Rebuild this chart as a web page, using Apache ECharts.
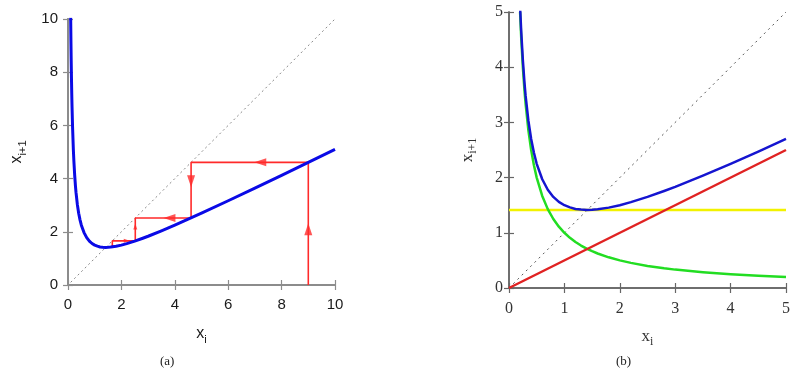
<!DOCTYPE html>
<html>
<head>
<meta charset="utf-8">
<script src="https://cdn.jsdelivr.net/npm/echarts@6/dist/echarts.min.js"></script>
<style>
  html, body { margin: 0; padding: 0; background: #fff; }
  #chart { width: 795px; height: 376px; }
</style>
</head>
<body>
<div id="chart"></div>
<script>
// (a) x_{i+1} against x_i
const curveAX = [0.1, 0.11, 0.12, 0.13, 0.14, 0.15, 0.17, 0.2, 0.22, 0.25, 0.28, 0.3, 0.35, 0.4, 0.45, 0.5, 0.6, 0.7, 0.8, 0.9,
  1.0, 1.1, 1.2, 1.3, 1.41, 1.5, 1.6, 1.8, 2.0, 2.2, 2.5, 2.8, 3.0, 3.5, 4, 5, 6, 7, 8, 9, 10];
const curveAY = [10.05, 9.15, 8.39, 7.76, 7.21, 6.74, 5.97, 5.1, 4.66, 4.13, 3.71, 3.48, 3.03, 2.7, 2.45, 2.25, 1.97, 1.78, 1.65, 1.56,
  1.5, 1.46, 1.43, 1.42, 1.414, 1.417, 1.425, 1.456, 1.5, 1.555, 1.65, 1.757, 1.833, 2.036, 2.25, 2.7, 3.167, 3.643, 4.125, 4.611, 5.1];

// cobweb path starting from x0 = 9
const cobX = [9, 9, 4.61, 4.61, 2.52, 2.52, 1.66, 1.66];
const cobY = [0, 4.61, 4.61, 2.52, 2.52, 1.66, 1.66, 1.43];

// arrow heads on the cobweb
const arrowX = [9, 7.2, 4.61, 3.8, 2.52, 2.2];
const arrowY = [2.1, 4.61, 3.9, 2.52, 2.2, 1.66];
const arrowRot = [0, 90, 180, 90, 0, -90];
const arrowBig = [true, true, true, true, false, false];

// (b) the curve and its two parts
const curveBX = [0.2, 0.22, 0.25, 0.28, 0.3, 0.35, 0.4, 0.45, 0.5, 0.6, 0.7, 0.8, 0.9, 1.0, 1.1, 1.2, 1.3, 1.41, 1.5, 1.6,
  1.8, 2.0, 2.2, 2.5, 2.8, 3.0, 3.5, 4, 4.5, 5];
const curveBY = [5.1, 4.66, 4.13, 3.71, 3.48, 3.03, 2.7, 2.45, 2.25, 1.97, 1.78, 1.65, 1.56, 1.5, 1.46, 1.43, 1.42, 1.414, 1.417, 1.425,
  1.456, 1.5, 1.555, 1.65, 1.757, 1.833, 2.036, 2.25, 2.472, 2.7];
const greenY = [5, 4.545, 4, 3.571, 3.333, 2.857, 2.5, 2.222, 2, 1.667, 1.429, 1.25, 1.111, 1, 0.909, 0.833, 0.769, 0.709, 0.667, 0.625,
  0.556, 0.5, 0.455, 0.4, 0.357, 0.333, 0.286, 0.25, 0.222, 0.2];
const redX = [0, 5];
const redY = [0, 2.5];
const yellowX = [0, 5];
const yellowY = [1.414, 1.414];
const diagB = [0, 5];
const diagA = [0.1, 10];

const zip = (xs, ys) => xs.map((x, i) => [x, ys[i]]);

const chart = echarts.init(document.getElementById('chart'));

const fontA = 'Liberation Sans, Arial, sans-serif';
const fontB = 'Liberation Serif, Times New Roman, serif';

function axisPair(gridIndex, max, interval, opts) {
  const line = { lineStyle: { color: opts.lineColor, width: opts.lineWidth } };
  const tick = { inside: true, length: 5, lineStyle: { color: opts.lineColor, width: 1.2 } };
  const base = { gridIndex, type: 'value', min: 0, max, interval, splitLine: { show: false }, axisLine: line, axisTick: tick };
  const nameRich = {
    v: { fontFamily: opts.font, fontSize: opts.nameSize, color: opts.textColor, lineHeight: opts.nameSize + 6, verticalAlign: 'middle' },
    s: { fontFamily: opts.font, fontSize: opts.nameSize * 0.7, color: opts.textColor, lineHeight: opts.nameSize + 6, verticalAlign: 'bottom' }
  };
  const label = { fontFamily: opts.font, fontSize: opts.labelSize, color: opts.textColor };
  return {
    x: [
      Object.assign({}, base, {
        position: 'bottom',
        name: '{v|x}{s|i}', nameLocation: 'middle', nameGap: opts.xNameGap,
        nameTextStyle: { rich: nameRich },
        axisLabel: Object.assign({ margin: opts.xLabelMargin }, label)
      }),
      Object.assign({}, base, { position: 'top', axisLabel: { show: false } })
    ],
    y: [
      Object.assign({}, base, {
        position: 'left',
        name: '{v|x}{s|i+1}', nameLocation: 'middle', nameGap: opts.yNameGap, nameRotate: 90,
        nameTextStyle: { rich: nameRich },
        axisLabel: Object.assign({ margin: opts.yLabelMargin }, label)
      }),
      Object.assign({}, base, { position: 'right', axisLabel: { show: false } })
    ]
  };
}

const axA = axisPair(0, 10, 2, {
  lineColor: '#8c8c8c', lineWidth: 2, font: fontA, textColor: '#1a1a1a',
  labelSize: 15, nameSize: 16, xNameGap: 38, yNameGap: 40, xLabelMargin: 12, yLabelMargin: 10
});
const axB = axisPair(1, 5, 1, {
  lineColor: '#666', lineWidth: 1.5, font: fontB, textColor: '#333',
  labelSize: 16, nameSize: 17, xNameGap: 37, yNameGap: 30, xLabelMargin: 13, yLabelMargin: 6
});

const option = {
  animation: false,
  grid: [
    { left: 68, top: 19, width: 267, height: 266 },
    { left: 509, top: 12, width: 277, height: 276 }
  ],
  xAxis: axA.x.concat(axB.x),
  yAxis: axA.y.concat(axB.y),
  graphic: [
    { type: 'text', left: 160, top: 355, style: { text: '(a)', font: '13px ' + fontB, fill: '#222' } },
    { type: 'text', left: 616, top: 355, style: { text: '(b)', font: '13px ' + fontB, fill: '#222' } }
  ],
  series: [
    // panel (a)
    {
      type: 'line', xAxisIndex: 0, yAxisIndex: 0, data: zip(diagA, diagA), symbol: 'none',
      lineStyle: { color: '#888', width: 1, type: [2, 3] }, z: 1
    },
    {
      type: 'line', xAxisIndex: 0, yAxisIndex: 0, data: zip(cobX, cobY), symbol: 'none',
      lineStyle: { color: '#ff2a2a', width: 1.6 }, z: 2
    },
    {
      type: 'scatter', xAxisIndex: 0, yAxisIndex: 0,
      data: arrowX.map((x, i) => ({
        value: [x, arrowY[i]],
        symbolRotate: arrowRot[i],
        symbolSize: arrowBig[i] ? [8, 12] : [4, 6]
      })),
      symbol: 'triangle', itemStyle: { color: '#ff2a2a' }, z: 3
    },
    {
      type: 'line', xAxisIndex: 0, yAxisIndex: 0, data: zip(curveAX, curveAY), symbol: 'none',
      clip: true, lineStyle: { color: '#0a0ae6', width: 3, join: 'round' }, z: 4
    },
    // panel (b)
    {
      type: 'line', xAxisIndex: 2, yAxisIndex: 2, data: zip(diagB, diagB), symbol: 'none',
      lineStyle: { color: '#555', width: 1, type: [2, 4] }, z: 1
    },
    {
      type: 'line', xAxisIndex: 2, yAxisIndex: 2, data: zip(yellowX, yellowY), symbol: 'none',
      lineStyle: { color: '#f2f200', width: 2.5 }, z: 2
    },
    {
      type: 'line', xAxisIndex: 2, yAxisIndex: 2, data: zip(curveBX, greenY), symbol: 'none',
      clip: true, lineStyle: { color: '#22dd22', width: 2.5, join: 'round' }, z: 3
    },
    {
      type: 'line', xAxisIndex: 2, yAxisIndex: 2, data: zip(redX, redY), symbol: 'none',
      lineStyle: { color: '#e02222', width: 2.5 }, z: 4
    },
    {
      type: 'line', xAxisIndex: 2, yAxisIndex: 2, data: zip(curveBX, curveBY), symbol: 'none',
      clip: true, lineStyle: { color: '#1515d0', width: 2.5, join: 'round' }, z: 5
    }
  ]
};

chart.setOption(option);
</script>
</body>
</html>
